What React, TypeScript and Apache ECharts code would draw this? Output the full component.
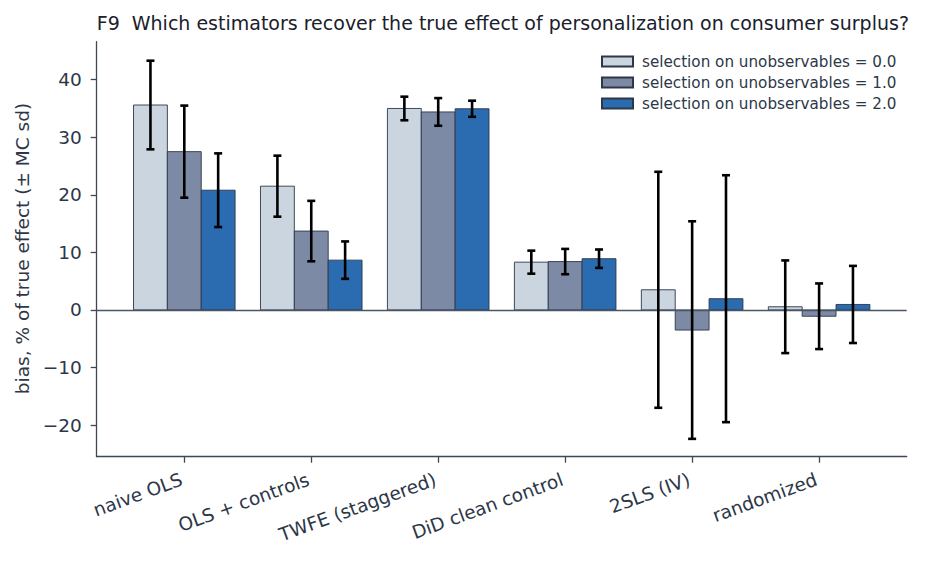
import React, { useEffect, useRef } from "react";
import * as echarts from "echarts";

const categories = [
  "naive OLS",
  "OLS + controls",
  "TWFE (staggered)",
  "DiD clean control",
  "2SLS (IV)",
  "randomized",
];
const groupNames = [
  "selection on unobservables = 0.0",
  "selection on unobservables = 1.0",
  "selection on unobservables = 2.0",
];
const bias0 = [35.6, 21.5, 35.0, 8.3, 3.5, 0.55];
const bias1 = [27.5, 13.7, 34.4, 8.4, -3.5, -1.1];
const bias2 = [20.8, 8.65, 34.95, 8.9, 1.95, 0.95];
const sd0 = [7.7, 5.3, 2.05, 2.0, 20.5, 8.05];
const sd1 = [8.0, 5.25, 2.4, 2.2, 18.9, 5.7];
const sd2 = [6.4, 3.25, 1.4, 1.6, 21.45, 6.7];
const yTicks = [-20, -10, 0, 10, 20, 30, 40];
const xTicks = [0, 1, 2, 3, 4, 5];

const biases = [bias0, bias1, bias2];
const sds = [sd0, sd1, sd2];
const colors = ["#cbd5e0", "#7d8aa5", "#2b6cb0"];
const edge = "#2d3748";
const axisColor = "#3f4754";
const textColor = "#2d3748";
const font = "DejaVu Sans";
const barW = 0.8 / 3;

export default function App() {
  const ref = useRef<HTMLDivElement>(null);
  useEffect(() => {
    document.body.style.margin = "0";
    const chart = echarts.init(ref.current!, undefined, { renderer: "svg" });

    const barSeries = biases.map((vals, k) => ({
      type: "custom",
      name: groupNames[k],
      data: vals.map((v, i) => [i + (k - 1) * barW, v]),
      encode: { x: 0, y: 1 },
      itemStyle: { color: colors[k], borderColor: edge, borderWidth: 0.9 },
      z: 2,
      renderItem: (params: any, api: any) => {
        const x = api.value(0);
        const y = api.value(1);
        const p1 = api.coord([x - barW / 2, y]);
        const p2 = api.coord([x + barW / 2, 0]);
        return {
          type: "rect",
          shape: {
            x: p1[0],
            y: Math.min(p1[1], p2[1]),
            width: p2[0] - p1[0],
            height: Math.abs(p2[1] - p1[1]),
          },
          style: { fill: colors[k], stroke: edge, lineWidth: 0.9 },
        };
      },
    }));

    const errSeries = biases.map((vals, k) => ({
      type: "custom",
      name: "err" + k,
      data: vals.map((v, i) => [i + (k - 1) * barW, v - sds[k][i], v + sds[k][i]]),
      encode: { x: 0, y: [1, 2] },
      z: 5,
      renderItem: (params: any, api: any) => {
        const x = api.value(0);
        const lo = api.coord([x, api.value(1)]);
        const hi = api.coord([x, api.value(2)]);
        const st = { stroke: "#000", lineWidth: 2.6 };
        const c = 4;
        return {
          type: "group",
          children: [
            { type: "line", shape: { x1: lo[0], y1: lo[1], x2: hi[0], y2: hi[1] }, style: st },
            { type: "line", shape: { x1: lo[0] - c, y1: lo[1], x2: lo[0] + c, y2: lo[1] }, style: st },
            { type: "line", shape: { x1: hi[0] - c, y1: hi[1], x2: hi[0] + c, y2: hi[1] }, style: st },
          ],
        };
      },
    }));

    const zeroSeries = {
      type: "line",
      name: "zero",
      data: [],
      z: 3,
      markLine: {
        silent: true,
        symbol: "none",
        label: { show: false },
        lineStyle: { color: "#4a5568", width: 1.3, type: "solid" },
        data: [{ yAxis: 0 }],
      },
    };

    chart.setOption({
      animation: false,
      title: {
        text: "F9  Which estimators recover the true effect of personalization on consumer surplus?",
        left: 96.7,
        top: 13.2,
        padding: 0,
        textStyle: { fontFamily: font, fontSize: 19, fontWeight: "normal", color: "#1a202c" },
      },
      legend: {
        data: groupNames,
        orient: "vertical",
        left: 601,
        top: 54,
        padding: 0,
        itemGap: 6,
        itemWidth: 31,
        itemHeight: 10,
        icon: "rect",
        selectedMode: false,
        textStyle: { fontFamily: font, fontSize: 15.2, color: textColor, padding: [0, 0, 0, 4] },
      },
      graphic: [
        {
          type: "text",
          x: 22.5,
          y: 248.5,
          rotation: Math.PI / 2,
          style: {
            text: "bias, % of true effect (\u00b1 MC sd)",
            fontFamily: font,
            fontSize: 18.5,
            fill: textColor,
            align: "center",
            verticalAlign: "middle",
          },
        },
      ],
      grid: { left: 96.7, right: 19.3, top: 41.7, bottom: 106.3 },
      xAxis: {
        type: "value",
        min: -0.69,
        max: 5.69,
        splitLine: { show: false },
        axisLine: { show: true, onZero: false, lineStyle: { color: axisColor, width: 1.3 } },
        axisTick: { show: true, customValues: xTicks, length: 6, lineStyle: { color: axisColor, width: 1.3 } },
        axisLabel: {
          customValues: xTicks,
          formatter: (v: number) => categories[Math.round(v)],
          rotate: 20,
          margin: 21,
          padding: [0, 3, 0, 0],
          fontFamily: font,
          fontSize: 18.5,
          color: textColor,
        },
      },
      yAxis: {
        type: "value",
        min: -25.5,
        max: 46.6,
        splitLine: { show: false },
        axisLine: { show: true, onZero: false, lineStyle: { color: axisColor, width: 1.3 } },
        axisTick: { show: true, customValues: yTicks, length: 6, lineStyle: { color: axisColor, width: 1.3 } },
        axisLabel: {
          customValues: yTicks,
          formatter: (v: number) => String(v).replace("-", "\u2212"),
          margin: 15,
          fontFamily: font,
          fontSize: 18.5,
          color: textColor,
        },
      },
      series: [...barSeries, zeroSeries, ...errSeries],
    });
    return () => chart.dispose();
  }, []);
  return <div ref={ref} style={{ width: 926, height: 563 }} />;
}
